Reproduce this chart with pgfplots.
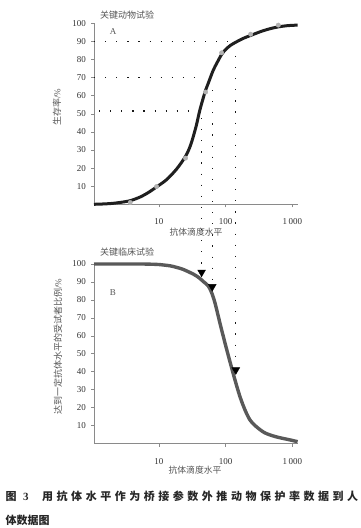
\documentclass[border=0pt]{standalone}
\usepackage{pgfplots}
\pgfplotsset{compat=1.18}
\usepackage{fontspec}
\setmainfont{Liberation Serif}
\newfontfamily\cjk{Noto Sans CJK SC}
\definecolor{axgray}{HTML}{8A8A8A}
\definecolor{txtgray}{HTML}{555555}
\pgfplotsset{myaxis/.style={
  scale only axis, width=203.6pt, anchor=south west,
  xmin=1.06, xmax=1200, ymin=0, ymax=100,
  axis lines*=left, axis line style={axgray, line width=0.6pt},
  xtick={10,100,1000}, xticklabels={10,100,1\,000},
  ytick={10,20,...,100}, xminorticks=false, yminorticks=false,
  tick align=outside, major tick length=3pt,
  tick style={axgray, line width=0.5pt},
  tick label style={font=\fontsize{9}{10}\selectfont, text=black!80},
  xticklabel style={yshift=-8pt},
  yticklabel style={xshift=-1.5pt},
  /pgf/number format/assume math mode=true,
  clip=false},
  dots/.style={black!90, line width=1.2pt, dash pattern=on 1.2pt off 9.9pt}
}
\begin{document}
\begin{tikzpicture}[x=1pt,y=1pt]
\path[use as bounding box] (0,0) rectangle (360,528);
% Panel A
\begin{semilogxaxis}[myaxis, at={(94pt,323.7pt)}, height=181pt]
\addplot[dots] coordinates {(1.06,90) (129,90)};
\addplot[dots] coordinates {(1.06,70) (49,70)};
\addplot[dots] coordinates {(1.26,51.5) (29,51.5)};
\addplot[black!88, line width=3pt, smooth, tension=0.5] coordinates {
(1.06,0) (1.5,0.2) (2,0.5) (2.7,1.1) (3.7,2) (5.2,4) (7,6.6) (9.2,9.6)
(13,13.6) (18.4,19.5) (25,26.5) (30,33) (36,43) (41,52) (49,62) (55,67)
(65,74) (75,78.5) (87,82.8) (100,85.5) (118,87.8) (146,89.8) (190,91.9)
(245,93.5) (340,95.5) (462,97) (610,98) (850,98.7) (1200,99)};
\addplot[only marks, mark=*, mark size=2.2pt, mark options={fill=gray!60, draw=gray!60}] coordinates {
(3.7,1) (9.2,9.8) (25,25.5) (50,62) (87,83.7) (237,94) (617,99)};
\end{semilogxaxis}
% Panel B
\begin{semilogxaxis}[myaxis, at={(94pt,84.5pt)}, height=179.5pt]
\addplot[black!65, line width=3.4pt, smooth, tension=0.5] coordinates {
(1.06,100) (5,100) (7.3,99.9) (10,99.7) (14.6,99) (18,98.2) (23,97) (33,94.3)
(40,92.3) (46,90.3) (54.8,87.8) (61.7,84) (69.2,78.3) (82.2,67) (97.7,56)
(116,45.6) (138,35.4) (164,26.1) (195,18.7) (232,13.1) (292,9.2) (389,5.9)
(550,3.9) (731,2.8) (950,1.9) (1200,1)};
\addplot[dots] coordinates {(43.6,181.3) (43.6,98.5)};
\addplot[dots] coordinates {(63,196.9) (63,91)};
\addplot[dots] coordinates {(142,215.9) (142,45.5)};
\addplot[only marks, mark=triangle*, mark size=4.5pt, mark options={rotate=180, fill=black, draw=black}] coordinates {
(43.6,95.4) (63,87.4) (142,41)};
\end{semilogxaxis}
% Texts
\begin{scope}[every node/.style={text=txtgray, inner sep=0}]
\node[font=\cjk\fontsize{9}{10}\selectfont] at (127,513) {关键动物试验};
\node[font=\fontsize{9}{10}\selectfont] at (113,496) {A};
\node[font=\cjk\fontsize{9}{10}\selectfont, rotate=90] at (57,420.5) {生存率{\rmfamily/\%}};
\node[font=\cjk\fontsize{8.8}{10}\selectfont] at (196,296.3) {抗体滴度水平};
\node[font=\cjk\fontsize{9}{10}\selectfont] at (127,275.7) {关键临床试验};
\node[font=\fontsize{9}{10}\selectfont] at (113,235.3) {B};
\node[font=\cjk\fontsize{9}{10}\selectfont, rotate=90] at (58,181.3) {达到一定抗体水平的受试者比例{\rmfamily/\%}};
\node[font=\cjk\fontsize{8.8}{10}\selectfont] at (195,58) {抗体滴度水平};
\end{scope}
\node[anchor=base west, inner sep=0, text=black!85, font=\cjk\bfseries\fontsize{11}{13}\selectfont] at (5.5,27.1)
{图\hspace{6.5pt}{\rmfamily\bfseries 3}\hspace{13.5pt}\makebox[316pt][s]{用\hfill 抗\hfill 体\hfill 水\hfill 平\hfill 作\hfill 为\hfill 桥\hfill 接\hfill 参\hfill 数\hfill 外\hfill 推\hfill 动\hfill 物\hfill 保\hfill 护\hfill 率\hfill 数\hfill 据\hfill 到\hfill 人}};
\node[anchor=base west, inner sep=0, text=black!85, font=\cjk\bfseries\fontsize{11}{13}\selectfont] at (5.5,3.1) {体数据图};
\end{tikzpicture}
\end{document}
